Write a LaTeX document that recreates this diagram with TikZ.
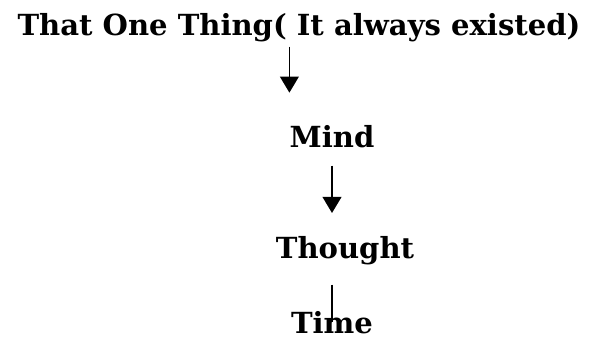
\documentclass[tikz,border=0pt]{standalone}
\usepackage{fontspec}
\setmainfont{DejaVu Serif}
\usetikzlibrary{arrows.meta}

\tikzset{
    word/.style={inner sep=0pt, anchor=base, font=\fontsize{21.8}{25}\selectfont\bfseries},
    flow/.style={line width=1.3pt, -{Triangle[width=14pt,length=12pt]}}
}

\begin{document}
\begin{tikzpicture}[x=0.75pt, y=0.75pt]
    \useasboundingbox (0,0) rectangle (593,-339);

    \node[word] (one) at (299,-36) {That One Thing( It always existed)};
    \node[word] (mind) at (332,-147) {Mind};
    \node[word] (thought) at (345,-258) {Thought};
    \node[word] (time) at (332,-333) {Time};

    % the arrows do not sit on the node centres
    \draw[flow, xshift=2.25pt, shorten <=3pt, shorten >=24pt] (one.south -| mind.west) -- (mind.north west);
    \draw[flow, shorten <=13.5pt, shorten >=17pt] (mind.south) -- (thought.north -| mind.south);
    \draw[line width=1.3pt, shorten <=15pt] (thought.south -| time.center) -- (time.center);
\end{tikzpicture}
\end{document}
